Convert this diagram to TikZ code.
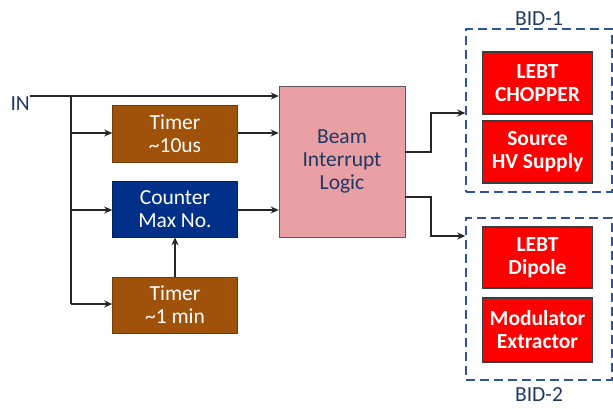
\documentclass[tikz,border=0pt]{standalone}
\usepackage{fontspec}
\setmainfont{Carlito}
\usetikzlibrary{arrows.meta}
\definecolor{brownbox}{HTML}{A0520A}
\definecolor{navybox}{HTML}{003087}
\definecolor{pinkbox}{HTML}{E8A0A4}
\definecolor{redbox}{HTML}{FF0000}
\definecolor{dashblue}{HTML}{2E5597}
\definecolor{labblue}{HTML}{1F3864}
\definecolor{linegray}{HTML}{262626}
\tikzset{
  blk/.style={draw=#1!70!black, line width=0.6pt, fill=#1, text=white, font=\fontsize{21.5}{23}\selectfont, align=center, inner sep=0pt},
  redblk/.style={draw=linegray!90, line width=1.8pt, fill=redbox, text=white, font=\bfseries\fontsize{21.5}{23}\selectfont, align=center, inner sep=0pt, minimum width=110pt},
  grp/.style={draw=dashblue, line width=1.5pt, dash pattern=on 9pt off 5pt},
  conn/.style={draw=linegray, line width=1.8pt, -{Stealth[length=8pt,width=7pt]}},
  wire/.style={draw=linegray, line width=1.8pt},
  lab/.style={text=labblue, font=\fontsize{21.5}{23}\selectfont, inner sep=0pt}
}
\begin{document}
\begin{tikzpicture}[x=1pt,y=-1pt]
\useasboundingbox (0,0) rectangle (613,408);
% left boxes
\node[blk=brownbox, minimum width=125pt, minimum height=57pt] (t10) at (175,133.5) {Timer\\\textasciitilde 10us};
\node[blk=navybox, minimum width=125pt, minimum height=56pt] (cnt) at (175,209) {Counter\\Max No.};
\node[blk=brownbox, minimum width=125pt, minimum height=56pt] (t1) at (175,305) {Timer\\\textasciitilde 1 min};
\node[draw=gray!70!black, line width=0.6pt, fill=pinkbox, text=labblue, font=\fontsize{21.5}{23}\selectfont, align=center, minimum width=126pt, minimum height=151pt, inner sep=0pt] (bil) at (342,161.5) {Beam\\Interrupt\\Logic};
% IN
\node[lab, anchor=east] (in) at (30,104) {IN};
\coordinate (ins) at (30,96);
\coordinate (br) at (71,96);
\coordinate (brb) at (71,304);
\draw[conn] (ins) -- (ins -| bil.west);
\draw[wire] (br) -- (brb);
\draw[conn] (71,133) -- (71,133 -| t10.west);
\draw[conn] (71,210) -- (71,210 -| cnt.west);
\draw[conn] (brb) -- (brb -| t1.west);
\draw[conn] (t10.east |- 0,133) -- (bil.west |- 0,133);
\draw[conn] (cnt.east |- 0,210) -- (bil.west |- 0,210);
\draw[conn] (t1.north) -- (cnt.south);
% right groups
\node[grp, minimum width=146pt, minimum height=163pt, inner sep=0pt] (g1) at (539,110.5) {};
\node[grp, minimum width=146pt, minimum height=162pt, inner sep=0pt] (g2) at (539,299) {};
\node[lab, anchor=south] (l1) at (g1.north) [yshift=3pt] {BID-1};
\node[lab, anchor=north] (l2) at (g2.south) [yshift=-7pt] {BID-2};
\node[redblk, minimum height=62pt] (r1) at (537.5,83) {LEBT\\CHOPPER};
\node[redblk, minimum height=62pt] (r2) at (537.5,152) {Source\\HV Supply};
\node[redblk, minimum height=61pt] (r3) at (537.5,257.5) {LEBT\\Dipole};
\node[redblk, minimum height=64pt] (r4) at (537.5,330) {Modulator\\Extractor};
% outputs
\draw[conn] (bil.east |- 0,152) -- (431,152) -- (431,113) -- (g1.west |- 0,113);
\draw[conn] (bil.east |- 0,197) -- (431,197) -- (431,236) -- (g2.west |- 0,236);
\end{tikzpicture}
\end{document}
